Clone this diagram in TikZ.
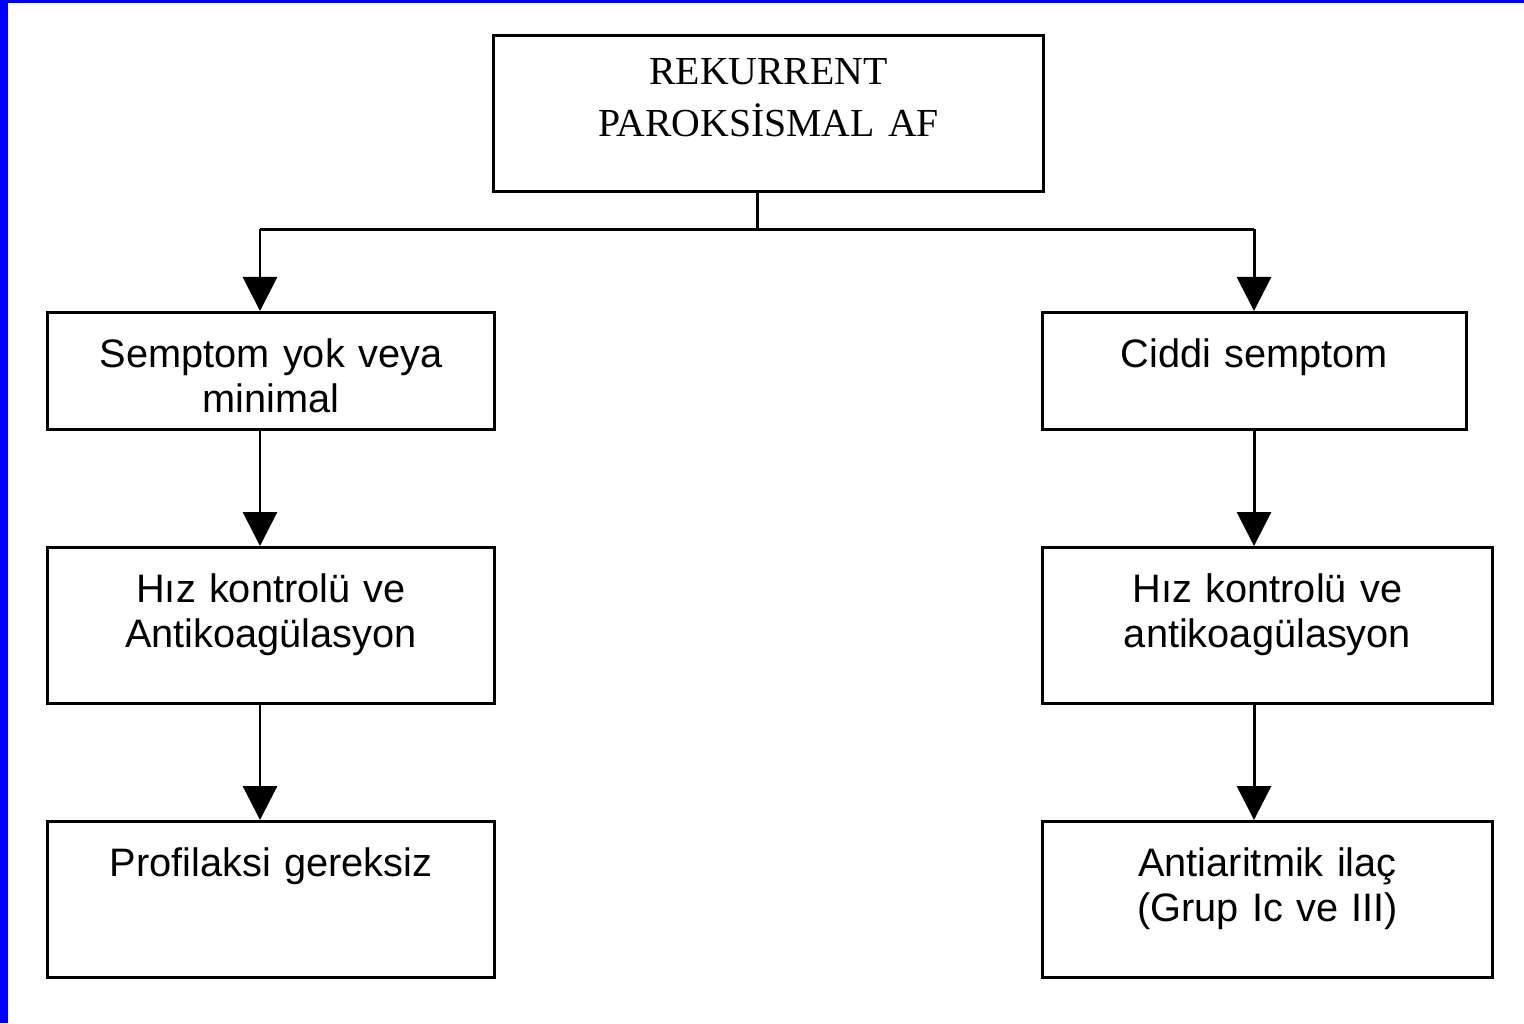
\documentclass[tikz,border=0pt]{standalone}
\usepackage{fontspec}
\setmainfont{Liberation Serif}
\newfontfamily\kutufont{Liberation Sans}
\usetikzlibrary{arrows.meta}

\begin{document}
\begin{tikzpicture}[x=0.01cm,y=-0.01cm,
    kutu/.style={draw,line width=0.85pt,inner sep=0pt,align=center,anchor=north,
      text height=0.55cm,font=\kutufont\fontsize{11.3}{12.8}\selectfont},
    ok/.style={line width=0.85pt,-{Triangle[width=0.34cm,length=0.34cm]}}]
  \useasboundingbox (0,0) rectangle (1524,1023);
  % blue frame edges
  \fill[blue] (0,0) rectangle (8,1023);
  \fill[blue] (0,0) rectangle (1524,3);

  \node[kutu,text width=5.49cm,text height=0.49cm,text depth=1.07cm,
    font=\rmfamily\fontsize{11.3}{14.8}\selectfont] (rap) at (768.5,34)
    {REKURRENT\\PAROKSİSMAL AF};

  % left branch
  \node[kutu,text width=4.46cm,text depth=0.62cm] (semp) at (271,311)
    {Semptom yok veya\\minimal};
  \node[kutu,text width=4.46cm,text depth=1.01cm] (hizsol) at (271,546)
    {Hız kontrolü ve\\Antikoagülasyon};
  \node[kutu,text width=4.46cm,text depth=1.01cm] (prof) at (271,820)
    {Profilaksi gereksiz};

  % right branch
  \node[kutu,text width=4.23cm,text depth=0.62cm] (ciddi) at (1254.5,311)
    {Ciddi semptom};
  \node[kutu,text width=4.49cm,text depth=1.01cm] (hizsag) at (1267.5,546)
    {Hız kontrolü ve\\antikoagülasyon};
  \node[kutu,text width=4.49cm,text depth=1.01cm] (ilac) at (1267.5,820)
    {Antiaritmik ilaç\\(Grup Ic ve III)};

  \coordinate (ayrim) at (757,229);
  \coordinate (sol) at (260,229);
  \coordinate (sag) at (1254,229);

  \draw[line width=0.85pt] (rap.south -| ayrim) -- (ayrim);
  \draw[line width=0.85pt] (sol) -- (sag);
  \draw[ok] (sol) -- (sol |- semp.north);
  \draw[ok] (sol |- semp.south) -- (sol |- hizsol.north);
  \draw[ok] (sol |- hizsol.south) -- (sol |- prof.north);
  \draw[ok] (sag) -- (sag |- ciddi.north);
  \draw[ok] (sag |- ciddi.south) -- (sag |- hizsag.north);
  \draw[ok] (sag |- hizsag.south) -- (sag |- ilac.north);
\end{tikzpicture}
\end{document}
